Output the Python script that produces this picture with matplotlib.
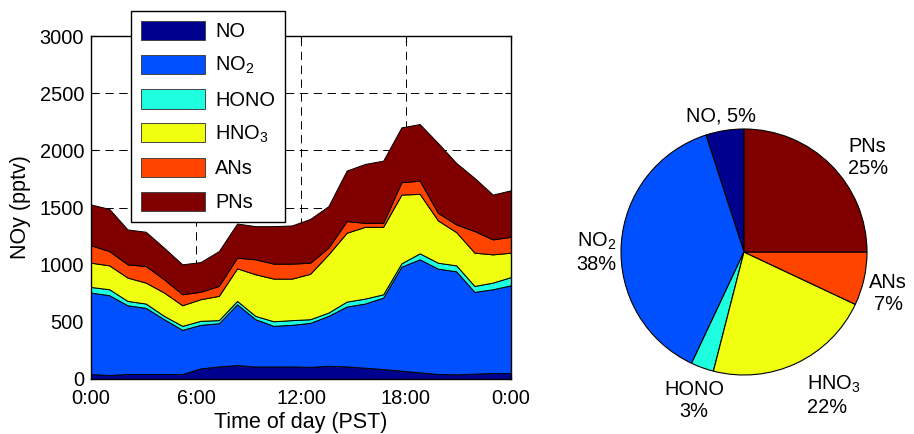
import numpy as np
import matplotlib
matplotlib.use('Agg')
import matplotlib.pyplot as plt
from matplotlib.transforms import offset_copy

plt.rcParams['font.family'] = ['Liberation Sans', 'DejaVu Sans']
plt.rcParams['mathtext.fontset'] = 'custom'
plt.rcParams['mathtext.rm'] = 'Liberation Sans'
plt.rcParams['mathtext.it'] = 'Liberation Sans:italic'
plt.rcParams['lines.scale_dashes'] = False

# hourly means, plotted across the 0:00 - 0:00 day
hours = np.linspace(0, 24, 24)
NO = [44, 35, 44, 44, 44, 44, 93, 110, 122, 110, 110, 110, 106, 116, 110, 99, 87, 73, 58, 44, 41, 47, 52, 52]
NO2 = [712, 698, 601, 578, 479, 386, 381, 378, 532, 413, 355, 364, 385, 436, 524, 561, 625, 910, 989, 921, 901, 715, 733, 768]
HONO = [49, 52, 38, 38, 29, 35, 35, 27, 29, 29, 40, 41, 32, 29, 43, 43, 29, 29, 52, 52, 52, 52, 58, 72]
HNO3 = [212, 209, 204, 183, 204, 180, 189, 212, 285, 364, 373, 363, 397, 509, 602, 628, 590, 601, 520, 370, 291, 291, 247, 213]
ANs = [152, 125, 116, 145, 116, 96, 65, 87, 93, 131, 131, 131, 97, 58, 102, 35, 35, 108, 116, 66, 67, 189, 131, 139]
PNs = [357, 369, 305, 300, 276, 262, 260, 305, 299, 290, 328, 334, 383, 364, 442, 515, 544, 480, 495, 611, 538, 465, 392, 407]

species = ['NO', 'NO$_2$', 'HONO', 'HNO$_3$', 'ANs', 'PNs']
colors = ['#00008F', '#0050FF', '#1EFFE0', '#F0FF10', '#FF4400', '#800000']

# campaign mean share of NOy (%)
shares = [5, 38, 3, 22, 7, 25]
label_sep = [', ', '\n', '\n', '\n', '\n', '\n']

xticks = [0, 6, 12, 18, 24]
xticklabels = ['0:00', '6:00', '12:00', '18:00', '0:00']

fig = plt.figure(figsize=(9.14, 4.34), dpi=100)
ax = fig.add_axes([91 / 914, 1 - 379 / 434, 420 / 914, 343 / 434])

polys = ax.stackplot(hours, NO, NO2, HONO, HNO3, ANs, PNs, colors=colors,
                     labels=species, edgecolor='k', linewidth=0.7)
ax.set_xlim(0, 24)
ax.set_ylim(0, 3000)
ax.set_xticks(xticks)
ax.set_xticklabels(xticklabels)
ax.set_yticks(np.arange(0, 3001, 500))
ax.set_axisbelow(True)
ax.grid(True, color='k', linestyle=(0, (6, 4)), linewidth=0.7)
ax.tick_params(direction='in', top=True, right=True, length=4, labelsize=14.4,
               width=0.8)
ax.tick_params(axis='x', pad=7)
ax.tick_params(axis='y', pad=5)
for s in ax.spines.values():
    s.set_linewidth(1.0)
ax.set_xlabel('Time of day (PST)', fontsize=15.5, labelpad=3)
ax.set_ylabel('NOy (pptv)', fontsize=15.5, labelpad=6)

leg = fig.legend(handles=polys, labels=species, loc='upper left',
                 bbox_to_anchor=(131 / 914, 1 - 11 / 434), borderaxespad=0,
                 fontsize=14.4, handlelength=3.2, handleheight=1.1,
                 handletextpad=0.5, labelspacing=0.66, borderpad=0.5,
                 fancybox=False, framealpha=1, edgecolor='k')
leg.get_frame().set_linewidth(1.0)
for h in leg.legend_handles:
    h.set_edgecolor('#444444')

# pie of the mean composition
r_px = 123
cx, cy = 744, 252
side = 2.5 * r_px
ax2 = fig.add_axes([(cx - side / 2) / 914, (434 - cy - side / 2) / 434,
                    side / 914, side / 434])
pie_labels = [n + sep + f'{p}%' for n, sep, p in zip(species, label_sep, shares)]
wedges, texts = ax2.pie(shares, labels=pie_labels, colors=colors, startangle=90,
                        counterclock=True, labeldistance=1.2,
                        wedgeprops=dict(edgecolor='k', linewidth=0.8),
                        textprops=dict(fontsize=14.4))
shifted = offset_copy(ax2.transData, fig=fig, x=0, y=-7, units='points')
for t in texts:
    t.set_ha('center')
    t.set_va('center')
    t.set_multialignment('center')
    t.set_transform(shifted)
for i in (3, 5):
    texts[i].set_ha('left')
    texts[i].set_multialignment('left')

fig.savefig('out.png', dpi=100)
